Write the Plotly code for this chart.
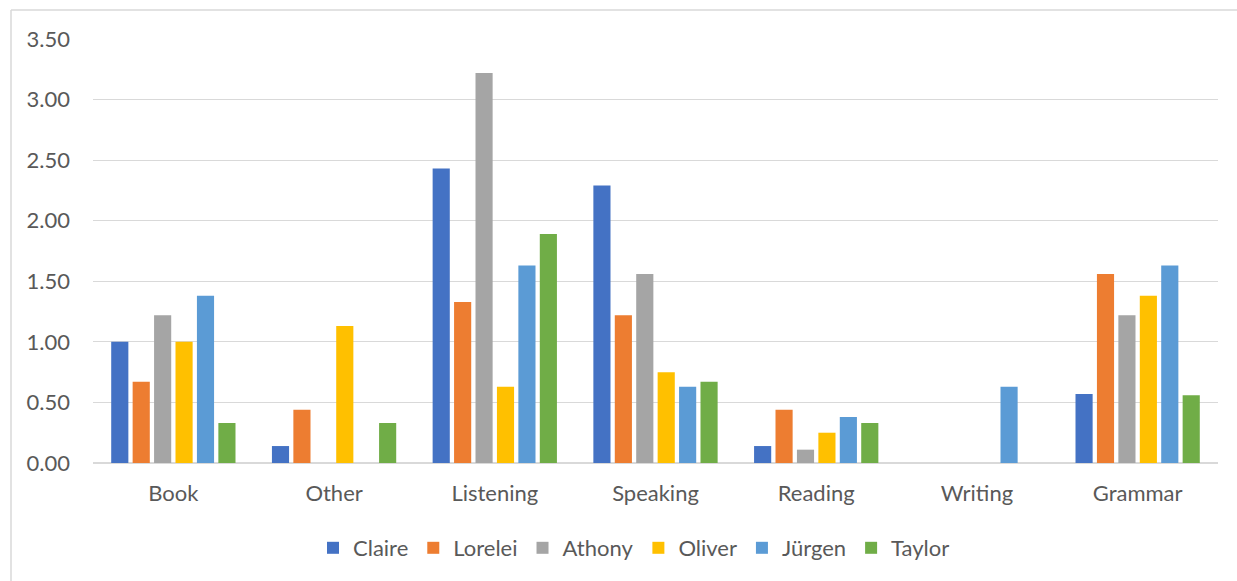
import plotly.graph_objects as go

categories = ["Book", "Other", "Listening", "Speaking", "Reading", "Writing", "Grammar"]

claire = [1.00, 0.14, 2.43, 2.29, 0.14, 0.00, 0.57]
lorelei = [0.67, 0.44, 1.33, 1.22, 0.44, 0.00, 1.56]
athony = [1.22, 0.00, 3.22, 1.56, 0.11, 0.00, 1.22]
oliver = [1.00, 1.13, 0.63, 0.75, 0.25, 0.00, 1.38]
jurgen = [1.38, 0.00, 1.63, 0.63, 0.38, 0.63, 1.63]
taylor = [0.33, 0.33, 1.89, 0.67, 0.33, 0.00, 0.56]

series = [
    ("Claire", claire, "#4472C4"),
    ("Lorelei", lorelei, "#ED7D31"),
    ("Athony", athony, "#A5A5A5"),
    ("Oliver", oliver, "#FFC000"),
    ("Jürgen", jurgen, "#5B9BD5"),
    ("Taylor", taylor, "#70AD47"),
]

FONT = "Lato, 'Open Sans', sans-serif"
TEXT_COLOR = "#595959"
GRID = "#D9D9D9"
FS = 22

fig = go.Figure()
for name, vals, color in series:
    fig.add_trace(go.Bar(
        x=categories, y=vals, name=name,
        marker=dict(color=color, line=dict(width=0)),
    ))

W, H = 1237, 581
L, R, T, B = 93, 19, 39, 118
pw, ph = W - L - R, H - T - B

def px_x(x):
    return (x - L) / pw

def px_y(y):
    return (H - B - y) / ph

fig.update_layout(
    width=W, height=H,
    margin=dict(l=L, r=R, t=T, b=B, pad=0),
    paper_bgcolor="white", plot_bgcolor="white",
    barmode="group", bargap=0.2, bargroupgap=0.2,
    font=dict(family=FONT, size=FS, color=TEXT_COLOR),
    showlegend=True,
    legend=dict(
        orientation="h", x=px_x(634), xanchor="center",
        y=px_y(548), yanchor="middle",
        font=dict(family=FONT, size=FS, color=TEXT_COLOR),
        itemwidth=30, tracegroupgap=0, bgcolor="rgba(0,0,0,0)",
    ),
    xaxis=dict(
        showgrid=False, showline=False, zeroline=False,
        ticks="", ticklabelstandoff=15,
        tickfont=dict(family=FONT, size=FS, color=TEXT_COLOR),
    ),
    yaxis=dict(
        range=[0, 3.5], dtick=0.5, tickformat=".2f",
        showgrid=True, gridcolor=GRID, gridwidth=1.3,
        zeroline=True, zerolinecolor=GRID, zerolinewidth=1.5,
        showline=False, ticks="", ticklabelstandoff=22,
        tickfont=dict(family=FONT, size=FS, color=TEXT_COLOR),
    ),
    shapes=[
        # chart area frame (left and top edges)
        dict(type="line", xref="paper", yref="paper",
             x0=px_x(11), x1=px_x(11), y0=px_y(10), y1=px_y(590),
             line=dict(color=GRID, width=1.5)),
        dict(type="line", xref="paper", yref="paper",
             x0=px_x(11), x1=px_x(1245), y0=px_y(10), y1=px_y(10),
             line=dict(color=GRID, width=1.5)),
    ],
)

fig.write_html("out.html")
